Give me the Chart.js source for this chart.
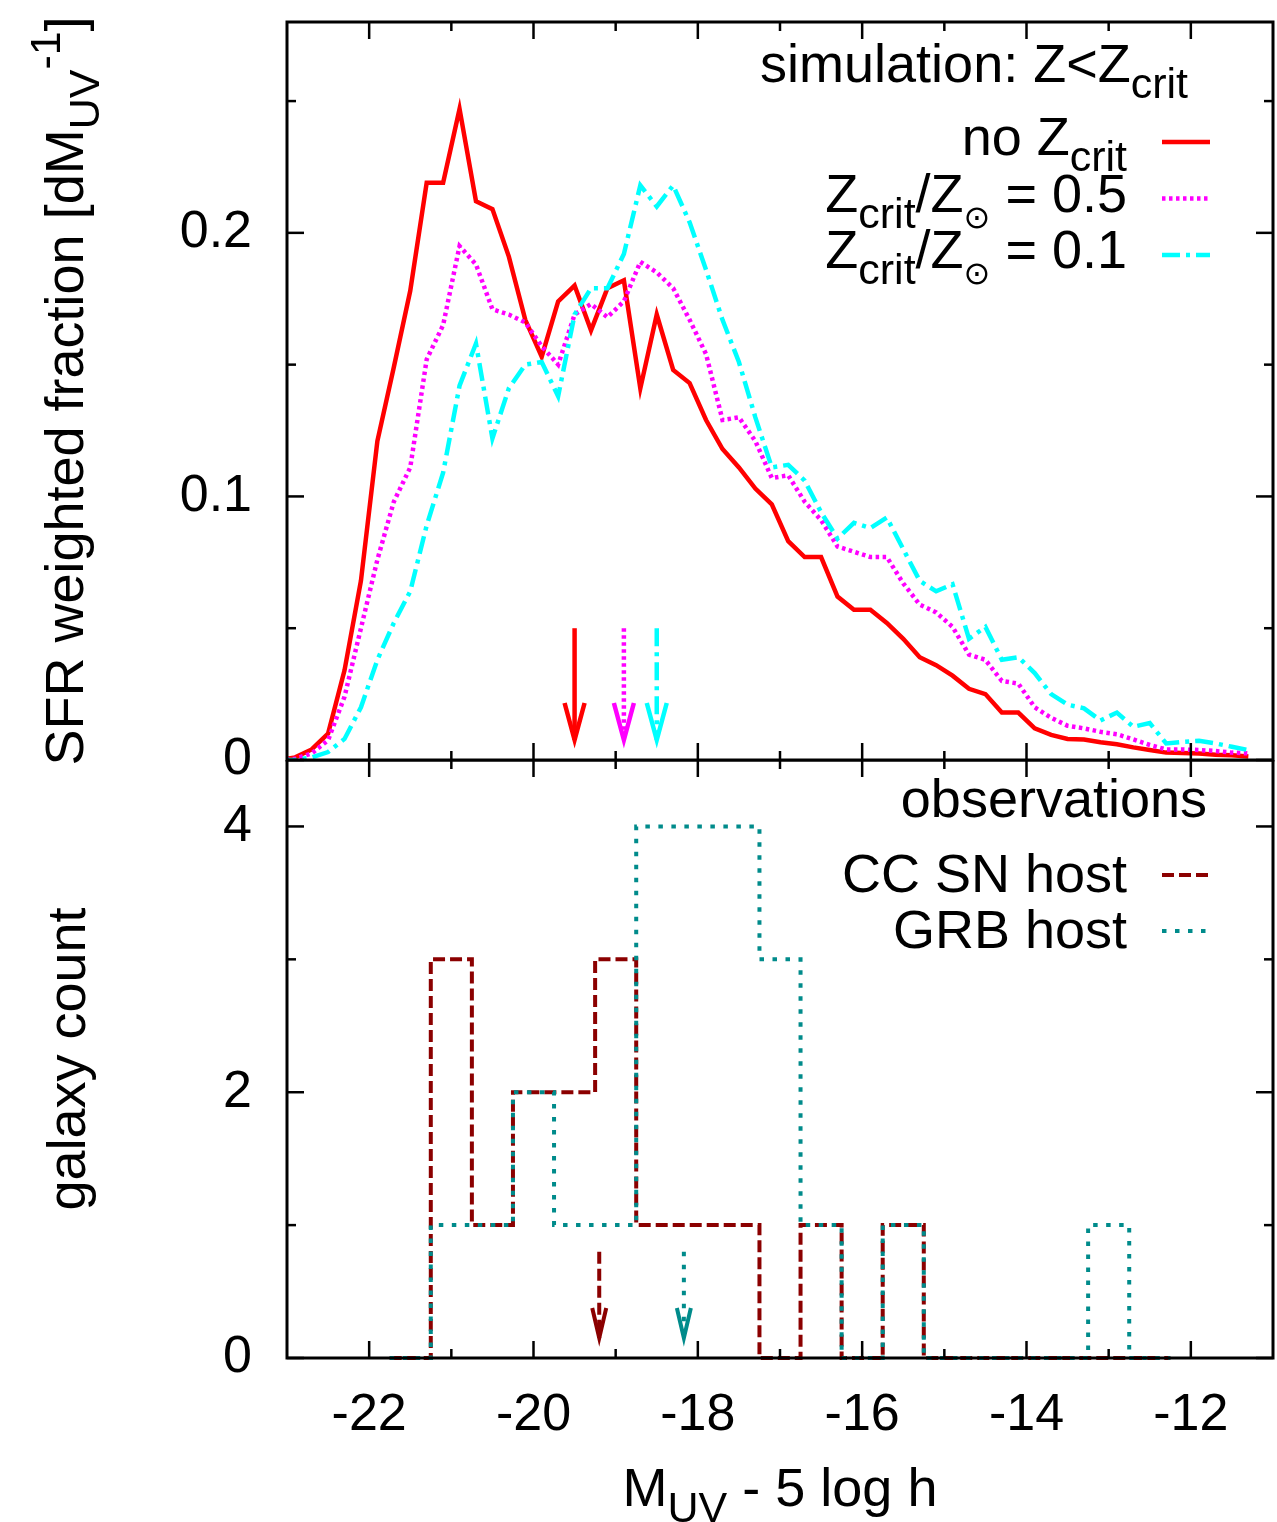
<!DOCTYPE html>
<html>
<head>
<meta charset="utf-8">
<title>SFR weighted fraction vs M_UV</title>
<script src="https://cdn.jsdelivr.net/npm/chart.js@4.4.1/dist/chart.umd.min.js"></script>
<style>
  html, body { margin: 0; padding: 0; background: #fff; }
  #wrap { position: relative; width: 1277px; height: 1522px; overflow: hidden; }
  canvas { position: absolute; left: 0; }
  #top-chart { top: 0; width: 1277px; height: 800px; }
  #bottom-chart { top: 760px; width: 1277px; height: 762px; }
</style>
</head>
<body>
<div id="wrap">
  <canvas id="top-chart" width="1277" height="800"></canvas>
  <canvas id="bottom-chart" width="1277" height="762"></canvas>
</div>
<script>
// ---- data ----
// simulation bins, M_UV - 5 log h, 0.2 mag wide
const magBins = [-23.1, -22.9, -22.7, -22.5, -22.3, -22.1, -21.9, -21.7, -21.5, -21.3,
  -21.1, -20.9, -20.7, -20.5, -20.3, -20.1, -19.9, -19.7, -19.5, -19.3,
  -19.1, -18.9, -18.7, -18.5, -18.3, -18.1, -17.9, -17.7, -17.5, -17.3,
  -17.1, -16.9, -16.7, -16.5, -16.3, -16.1, -15.9, -15.7, -15.5, -15.3,
  -15.1, -14.9, -14.7, -14.5, -14.3, -14.1, -13.9, -13.7, -13.5, -13.3,
  -13.1, -12.9, -12.7, -12.5, -12.3, -12.1, -11.9, -11.7, -11.5, -11.3];

const noZcrit = [0, 0.001, 0.004, 0.010, 0.034, 0.068, 0.121, 0.149, 0.178, 0.219,
  0.219, 0.247, 0.212, 0.209, 0.191, 0.167, 0.153, 0.174, 0.180, 0.163,
  0.179, 0.182, 0.141, 0.169, 0.148, 0.143, 0.129, 0.118, 0.111, 0.103,
  0.097, 0.083, 0.077, 0.077, 0.062, 0.057, 0.057, 0.052, 0.046, 0.039,
  0.036, 0.032, 0.027, 0.025, 0.018, 0.018, 0.012, 0.0095, 0.008, 0.0078,
  0.0067, 0.006, 0.0048, 0.0038, 0.0028, 0.0027, 0.0025, 0.002, 0.0018, 0.0013];

const zcrit05 = [0, 0.0005, 0.0025, 0.0075, 0.024, 0.050, 0.076, 0.098, 0.111, 0.152,
  0.165, 0.195, 0.188, 0.171, 0.169, 0.166, 0.157, 0.150, 0.169, 0.173,
  0.168, 0.174, 0.189, 0.185, 0.179, 0.167, 0.154, 0.129, 0.130, 0.121,
  0.107, 0.108, 0.098, 0.091, 0.081, 0.079, 0.077, 0.077, 0.067, 0.059,
  0.056, 0.0505, 0.040, 0.038, 0.030, 0.029, 0.020, 0.016, 0.013, 0.012,
  0.0107, 0.0098, 0.0078, 0.0057, 0.004, 0.004, 0.0038, 0.0034, 0.0028, 0.0025];

const zcrit01 = [0, 0, 0.001, 0.003, 0.008, 0.020, 0.038, 0.052, 0.064, 0.089,
  0.109, 0.142, 0.158, 0.122, 0.141, 0.150, 0.151, 0.138, 0.169, 0.179,
  0.179, 0.192, 0.218, 0.210, 0.218, 0.204, 0.186, 0.167, 0.151, 0.130,
  0.111, 0.112, 0.106, 0.094, 0.084, 0.090, 0.088, 0.092, 0.080, 0.068,
  0.064, 0.0667, 0.046, 0.0505, 0.038, 0.039, 0.033, 0.025, 0.021, 0.0196,
  0.015, 0.018, 0.0126, 0.014, 0.0063, 0.0069, 0.0073, 0.0063, 0.005, 0.0038];

// median markers (arrows) of the simulated curves
const simArrowX = [-19.5, -18.9, -18.5];
const simArrowY = [0.05, 0.0076];

// observed host galaxies, 0.5 mag bins (centres)
const histCenters = [-21.5, -21.0, -20.5, -20.0, -19.5, -19.0, -18.5, -18.0, -17.5, -17.0,
  -16.5, -16.0, -15.5, -15.0, -14.5, -14.0, -13.5, -13.0, -12.5];
const ccsnCounts = [0, 3, 1, 2, 2, 3, 1, 1, 1, 0, 1, 0, 1, 0, 0, 0, 0, 0, 0];
const grbCounts  = [0, 1, 1, 2, 1, 1, 4, 4, 4, 3, 1, 0, 1, 0, 0, 0, 0, 1, 0];

const obsArrowX = [-19.2, -18.17];
const obsArrowY = [0.8, 0.15];

// axes and ticks
const xRange = [-23, -11];
const xTicks = [-22, -20, -18, -16, -14, -12];
const xTickLabels = ['-22', '-20', '-18', '-16', '-14', '-12'];
const xMinorTicks = [-21, -19, -17, -15, -13];
const topYRange = [0, 0.28];
const topYTicks = [0, 0.1, 0.2];
const topYTickLabels = ['0', '0.1', '0.2'];
const topYMinorTicks = [0.05, 0.15, 0.25];
const botYRange = [0, 4.5];
const botYTicks = [0, 2, 4];
const botYTickLabels = ['0', '2', '4'];
const botYMinorTicks = [1, 3];

// texts: [string, mode]
const simKeyTitle = [['simulation: Z<Z', ''], ['crit', 'sub']];
const simKeyLabels = [
  [['no Z', ''], ['crit', 'sub']],
  [['Z', ''], ['crit', 'sub'], ['/Z', ''], ['\u2299', 'sym'], [' = 0.5', '']],
  [['Z', ''], ['crit', 'sub'], ['/Z', ''], ['\u2299', 'sym'], [' = 0.1', '']]
];
const obsKeyTitle = [['observations', '']];
const obsKeyLabels = [
  [['CC SN host', '']],
  [['GRB host', '']]
];
const topYTitle = [['SFR weighted fraction [dM', ''], ['UV', 'sub'], ['-1', 'sup'], [']', '']];
const botYTitle = [['galaxy count', '']];
const xTitle = [['M', ''], ['UV', 'sub'], [' - 5 log h', '']];

// ---- helpers ----
const FONT = "'Liberation Sans', Arial, Helvetica, sans-serif";
const SYM_FONT = "'DejaVu Sans', 'Liberation Sans', sans-serif";
const TEXT_SIZE = 54;
const TICK_SIZE = 52;

function partFont(mode, size) {
  if (mode === 'sub' || mode === 'sup') return Math.round(size * 0.8) + 'px ' + FONT;
  if (mode === 'sym') return Math.round(size * 0.6) + 'px ' + SYM_FONT;
  return size + 'px ' + FONT;
}
function partShift(mode, size) {
  if (mode === 'sub' || mode === 'sym') return size * 0.3;
  if (mode === 'sup') return -size * 0.42;
  return 0;
}
function drawRich(ctx, parts, x, y, align) {
  let total = 0;
  parts.forEach(p => { ctx.font = partFont(p[1], TEXT_SIZE); total += ctx.measureText(p[0]).width; });
  let cx = align === 'right' ? x - total : (align === 'center' ? x - total / 2 : x);
  ctx.textAlign = 'left';
  ctx.textBaseline = 'alphabetic';
  parts.forEach(p => {
    ctx.font = partFont(p[1], TEXT_SIZE);
    ctx.fillText(p[0], cx, y + partShift(p[1], TEXT_SIZE));
    cx += ctx.measureText(p[0]).width;
  });
}

function toXY(xs, ys) {
  return xs.map((x, i) => ({ x: x, y: ys[i] }));
}
// histeps: pad half a bin on both ends, then step in the middle
function histSteps(centers, counts) {
  const half = (centers[1] - centers[0]) / 2;
  const pts = toXY(centers, counts);
  pts.unshift({ x: centers[0] - half, y: counts[0] });
  pts.push({ x: centers[centers.length - 1] + half, y: counts[counts.length - 1] });
  return pts;
}

// keep the plot frame where we want it: no extra label padding from the scales
function fixWidth(w) {
  return s => { s.width = w; s.paddingTop = 0; s.paddingBottom = 0; };
}
function fixHeight(h) {
  return s => { s.height = h; s.paddingLeft = 0; s.paddingRight = 0; };
}

// frame with inward ticks on all four sides
const frameTicks = {
  id: 'frameTicks',
  afterDraw(chart, args, o) {
    const { ctx, chartArea: a } = chart;
    const xs = chart.scales.x, ys = chart.scales.y;
    const seg = (x1, y1, x2, y2) => { ctx.beginPath(); ctx.moveTo(x1, y1); ctx.lineTo(x2, y2); ctx.stroke(); };
    ctx.save();
    ctx.strokeStyle = '#000';
    ctx.setLineDash([]);
    ctx.lineWidth = 2.5;
    const xt = (vals, len) => vals.forEach(v => {
      const p = xs.getPixelForValue(v);
      seg(p, a.bottom, p, a.bottom - len);
      seg(p, a.top, p, a.top + len);
    });
    const yt = (vals, len) => vals.forEach(v => {
      const p = ys.getPixelForValue(v);
      seg(a.left, p, a.left + len, p);
      seg(a.right, p, a.right - len, p);
    });
    xt(o.xMajor, 17); xt(o.xMinor, 9);
    yt(o.yMajor, 17); yt(o.yMinor, 9);
    ctx.lineWidth = 3;
    ctx.strokeRect(a.left, a.top, a.right - a.left, a.bottom - a.top);
    ctx.restore();
  }
};

// vertical arrows marking the medians
const medianArrows = {
  id: 'medianArrows',
  afterDatasetsDraw(chart, args, o) {
    const { ctx } = chart;
    const xs = chart.scales.x, ys = chart.scales.y;
    ctx.save();
    o.xs.forEach((v, i) => {
      const ds = chart.data.datasets[i];
      const x = xs.getPixelForValue(v);
      const y1 = ys.getPixelForValue(o.ys[0]);
      const y2 = ys.getPixelForValue(o.ys[1]);
      ctx.strokeStyle = ds.borderColor;
      ctx.lineWidth = ds.borderWidth;
      ctx.lineCap = 'butt';
      ctx.setLineDash(ds.borderDash || []);
      ctx.beginPath(); ctx.moveTo(x, y1); ctx.lineTo(x, y2); ctx.stroke();
      ctx.setLineDash([]);
      ctx.lineJoin = 'miter';
      ctx.beginPath();
      ctx.moveTo(x - o.headHalf, y2 - o.headLen);
      ctx.lineTo(x, y2);
      ctx.lineTo(x + o.headHalf, y2 - o.headLen);
      ctx.stroke();
    });
    ctx.restore();
  }
};

// axis titles and the key
const panelText = {
  id: 'panelText',
  afterDraw(chart, args, o) {
    const { ctx, chartArea: a } = chart;
    ctx.save();
    ctx.fillStyle = '#000';
    ctx.save();
    ctx.translate(o.yTitleX, (a.top + a.bottom) / 2);
    ctx.rotate(-Math.PI / 2);
    drawRich(ctx, o.yTitle, 0, 0, 'center');
    ctx.restore();
    if (o.xTitle) drawRich(ctx, o.xTitle, (a.left + a.right) / 2, a.bottom + o.xTitleDy, 'center');
    drawRich(ctx, o.keyTitle, a.right - o.keyTitleRight, a.top + o.keyTitleDy, 'right');
    o.keyLabels.forEach((lab, i) => {
      const ds = chart.data.datasets[i];
      const base = a.top + o.keyDy + i * o.keyStep;
      drawRich(ctx, lab, a.right - 146, base, 'right');
      ctx.strokeStyle = ds.borderColor;
      ctx.lineWidth = ds.borderWidth;
      ctx.lineCap = 'butt';
      ctx.setLineDash(ds.borderDash || []);
      ctx.beginPath();
      ctx.moveTo(a.right - 111, base - o.sampleLift);
      ctx.lineTo(a.right - 63, base - o.sampleLift);
      ctx.stroke();
    });
    ctx.restore();
  }
};

const tickFont = { family: FONT, size: TICK_SIZE };

// ---- top panel: simulation ----
new Chart(document.getElementById('top-chart'), {
  type: 'line',
  data: {
    datasets: [
      { label: 'no Z_crit', data: toXY(magBins, noZcrit), borderColor: '#ff0000',
        borderWidth: 4.5, order: 3 },
      { label: 'Z_crit/Z_sun = 0.5', data: toXY(magBins, zcrit05), borderColor: '#ff00ff',
        borderWidth: 4.5, borderDash: [3.5, 3.5], order: 2 },
      { label: 'Z_crit/Z_sun = 0.1', data: toXY(magBins, zcrit01), borderColor: '#00ffff',
        borderWidth: 4.5, borderDash: [18, 6, 4, 6], order: 1 }
    ]
  },
  options: {
    responsive: false,
    animation: false,
    devicePixelRatio: 1,
    layout: { padding: { top: 22, right: 4, bottom: 40, left: 0 } },
    elements: {
      point: { radius: 0, hoverRadius: 0 },
      line: { tension: 0, fill: false, borderCapStyle: 'butt', borderJoinStyle: 'miter' }
    },
    datasets: { line: { clip: 0 } },
    plugins: {
      legend: { display: false },
      tooltip: { enabled: false },
      frameTicks: { xMajor: xTicks, xMinor: xMinorTicks, yMajor: topYTicks, yMinor: topYMinorTicks },
      medianArrows: { xs: simArrowX, ys: simArrowY, headHalf: 10, headLen: 37 },
      panelText: {
        yTitle: topYTitle, yTitleX: 83,
        keyTitle: simKeyTitle, keyTitleRight: 85, keyTitleDy: 60,
        keyLabels: simKeyLabels, keyDy: 133, keyStep: 56.5, sampleLift: 13
      }
    },
    scales: {
      x: { type: 'linear', min: xRange[0], max: xRange[1], display: false },
      y: {
        type: 'linear', min: topYRange[0], max: topYRange[1],
        afterFit: fixWidth(287),
        afterBuildTicks: s => { s.ticks = topYTicks.map(v => ({ value: v })); },
        ticks: {
          callback: v => topYTickLabels[topYTicks.indexOf(v)],
          font: tickFont, color: '#000', padding: 35
        },
        grid: { display: false, drawTicks: false },
        border: { display: false }
      }
    }
  },
  plugins: [frameTicks, medianArrows, panelText]
});

// ---- bottom panel: observations ----
new Chart(document.getElementById('bottom-chart'), {
  type: 'line',
  data: {
    datasets: [
      { label: 'CC SN host', data: histSteps(histCenters, ccsnCounts), borderColor: '#8b0000',
        borderWidth: 4, borderDash: [12, 5], stepped: 'middle', order: 2 },
      { label: 'GRB host', data: histSteps(histCenters, grbCounts), borderColor: '#008b8b',
        borderWidth: 4, borderDash: [4.5, 8.5], stepped: 'middle', order: 1 }
    ]
  },
  options: {
    responsive: false,
    animation: false,
    devicePixelRatio: 1,
    layout: { padding: { top: 0, right: 4, bottom: 0, left: 0 } },
    elements: {
      point: { radius: 0, hoverRadius: 0 },
      line: { tension: 0, fill: false, borderCapStyle: 'butt', borderJoinStyle: 'miter' }
    },
    datasets: { line: { clip: false } },
    plugins: {
      legend: { display: false },
      tooltip: { enabled: false },
      frameTicks: { xMajor: xTicks, xMinor: xMinorTicks, yMajor: botYTicks, yMinor: botYMinorTicks },
      medianArrows: { xs: obsArrowX, ys: obsArrowY, headHalf: 7, headLen: 30 },
      panelText: {
        yTitle: botYTitle, yTitleX: 85,
        xTitle: xTitle, xTitleDy: 148,
        keyTitle: obsKeyTitle, keyTitleRight: 66, keyTitleDy: 57,
        keyLabels: obsKeyLabels, keyDy: 132, keyStep: 56, sampleLift: 17
      }
    },
    scales: {
      x: {
        type: 'linear', min: xRange[0], max: xRange[1],
        afterFit: fixHeight(164),
        afterBuildTicks: s => { s.ticks = xTicks.map(v => ({ value: v })); },
        ticks: {
          callback: v => xTickLabels[xTicks.indexOf(v)],
          font: tickFont, color: '#000', padding: 26, maxRotation: 0, autoSkip: false
        },
        grid: { display: false, drawTicks: false },
        border: { display: false }
      },
      y: {
        type: 'linear', min: botYRange[0], max: botYRange[1],
        afterFit: fixWidth(287),
        afterBuildTicks: s => { s.ticks = botYTicks.map(v => ({ value: v })); },
        ticks: {
          callback: v => botYTickLabels[botYTicks.indexOf(v)],
          font: tickFont, color: '#000', padding: 35
        },
        grid: { display: false, drawTicks: false },
        border: { display: false }
      }
    }
  },
  plugins: [frameTicks, medianArrows, panelText]
});
</script>
</body>
</html>
